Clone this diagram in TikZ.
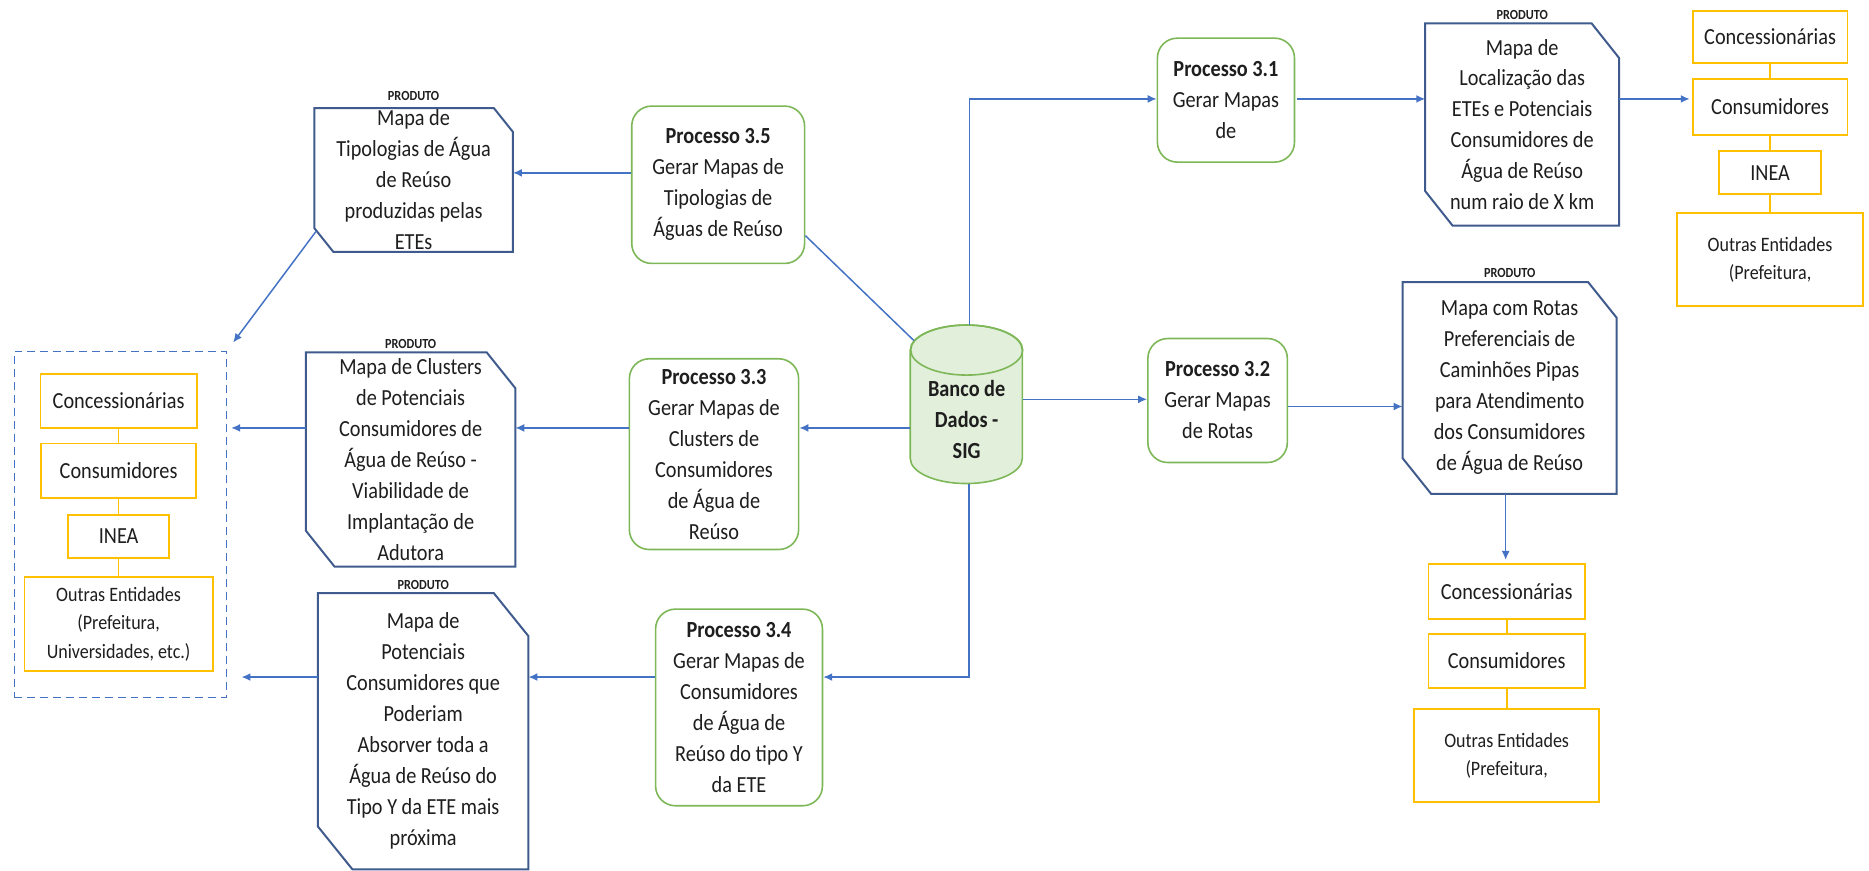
\documentclass[tikz,border=0pt]{standalone}
\usepackage{fontspec}
\setmainfont{Carlito}[FakeStretch=0.88]
\usetikzlibrary{arrows.meta}
\definecolor{procgreen}{HTML}{7DB757}
\definecolor{entyellow}{HTML}{FFC000}
\definecolor{arrowblue}{HTML}{4472C4}
\definecolor{prodblue}{HTML}{3F5A8C}
\definecolor{dbfill}{HTML}{E2EFDA}
\definecolor{txt}{HTML}{1E1E1E}

\tikzset{
  base/.style={font=\fontsize{11.6}{15.6}\selectfont, text=txt},
  sz/.style 2 args={minimum width=#1*0.6pt, minimum height=#2*0.6pt, inner sep=0pt},
  proc/.style={draw=procgreen, line width=0.8pt, rounded corners=10pt, align=center, fill=white, base},
  ent/.style={draw=entyellow, line width=0.9pt, align=center, fill=white, base},
  entsmall/.style={ent, font=\fontsize{10.3}{14.4}\selectfont},
  prodholder/.style={inner sep=0pt},
  prodtext/.style={align=center, base, inner sep=0pt},
  prodline/.style={draw=prodblue, line width=1pt, line join=miter},
  produto/.style={font=\bfseries\fontsize{7}{8}\selectfont, text=txt, inner sep=0pt},
  arr/.style={draw=arrowblue, line width=0.75pt, -{Latex[length=4.5pt,width=4pt]}},
  link/.style={draw=arrowblue, line width=0.75pt},
  tie/.style={draw=entyellow, line width=0.9pt},
}

% product outline: rectangle with the north-east and south-west corners cut
\newcommand\productshape[3]{%
  \draw[prodline] (#1.north west) -- ([xshift=-#2*0.6pt]#1.north east)
    -- ([yshift=-#3*0.6pt]#1.north east) -- (#1.south east)
    -- ([xshift=#2*0.6pt]#1.south west) -- ([yshift=#3*0.6pt]#1.south west) -- cycle;}

\begin{document}
\begin{tikzpicture}[x=0.6pt,y=-0.6pt]
\useasboundingbox (0,0) rectangle (1568,730);

% ---------- rows used by horizontal connectors ----------
\coordinate (r31) at (0,83);
\coordinate (r32) at (0,335);
\coordinate (r32b) at (0,341);
\coordinate (r33) at (0,359);
\coordinate (r34) at (0,568);
\coordinate (r35) at (0,145);

% ---------- database ----------
\node[sz={94}{133}] (db) at (811,339.5) {};
\path (db.north west) ++(0,21) coordinate (dbtl);
\path (db.north) ++(0,21) coordinate (dbtc);
\filldraw[fill=dbfill, draw=procgreen, line width=0.8pt]
  (dbtl) -- ++(0,91) arc[start angle=180, end angle=360, x radius=28.2pt, y radius=12.6pt]
  -- ++(0,-91) arc[start angle=0, end angle=180, x radius=28.2pt, y radius=12.6pt] -- cycle;
\draw[procgreen, line width=0.8pt] (dbtc) ellipse [x radius=28.2pt, y radius=12.6pt];
\node[align=center, text=txt, inner sep=0pt, font=\bfseries\fontsize{11.6}{15.6}\selectfont] (dbt) at (811,352) {Banco de\\Dados -\\SIG};

% ---------- process boxes ----------
\node[proc, sz={115}{104}] (p31) at (1028.5,84) {\textbf{Processo 3.1}\\Gerar Mapas\\de};
\node[proc, sz={117}{104}] (p32) at (1021.5,336) {\textbf{Processo 3.2}\\Gerar Mapas\\de Rotas};
\node[proc, sz={142}{160}] (p33) at (599,381) {\textbf{Processo 3.3}\\Gerar Mapas de\\Clusters de\\Consumidores\\de Água de\\Reúso};
\node[proc, sz={140}{165}] (p34) at (620,593.5) {\textbf{Processo 3.4}\\Gerar Mapas de\\Consumidores\\de Água de\\Reúso do tipo Y\\da ETE};
\node[proc, sz={145}{132}] (p35) at (602.5,155) {\textbf{Processo 3.5}\\Gerar Mapas de\\Tipologias de\\Águas de Reúso};

% ---------- products ----------
\node[prodholder, sz={162}{169}] (pr31) at (1277,104.5) {};
\productshape{pr31}{23}{29}
\node[prodtext] (pr31t) at (pr31) {Mapa de\\Localização das\\ETEs e Potenciais\\Consumidores de\\Água de Reúso\\num raio de X km};
\node[produto, anchor=base] (pr31l) at ([yshift=2pt]pr31.north) {PRODUTO};

\node[prodholder, sz={179}{177}] (pr32) at (1266.5,325.5) {};
\productshape{pr32}{24}{30}
\node[prodtext] (pr32t) at (pr32) {Mapa com Rotas\\Preferenciais de\\Caminhões Pipas\\para Atendimento\\dos Consumidores\\de Água de Reúso};
\node[produto, anchor=base] (pr32l) at ([yshift=2.5pt]pr32.north) {PRODUTO};

\node[prodholder, sz={175}{179}] (pr33) at (344.5,385.5) {};
\productshape{pr33}{24}{30}
\node[prodtext] (pr33t) at (pr33) {Mapa de Clusters\\de Potenciais\\Consumidores de\\Água de Reúso -\\Viabilidade de\\Implantação de\\Adutora};
\node[produto, anchor=base] (pr33l) at ([yshift=2pt]pr33.north) {PRODUTO};

\node[prodholder, sz={176}{231}] (pr34) at (355,613.5) {};
\productshape{pr34}{29}{36}
\node[prodtext] (pr34t) at (pr34) {Mapa de\\Potenciais\\Consumidores que\\Poderiam\\Absorver toda a\\Água de Reúso do\\Tipo Y da ETE mais\\próxima};
\node[produto, anchor=base] (pr34l) at ([yshift=2pt]pr34.north) {PRODUTO};

\node[prodholder, sz={166}{120}] (pr35) at (347,151) {};
\productshape{pr35}{16}{20}
\node[prodtext] (pr35t) at (pr35) {Mapa de\\Tipologias de Água\\de Reúso\\produzidas pelas\\ETEs};
\node[produto, anchor=base] (pr35l) at ([yshift=4pt]pr35.north) {PRODUTO};

% ---------- stakeholder group, left ----------
\node[draw=arrowblue, dash pattern=on 4pt off 2.5pt, line width=0.75pt, sz={178}{290}] (L0) at (101,440) {};
\node[ent, sz={131}{45}] (lConc) at (99.5,336.5) {Concessionárias};
\node[ent, sz={130}{46}] (lCons) at (99.5,395) {Consumidores};
\node[ent, sz={85}{36}] (lInea) at (99.5,450) {INEA};
\node[entsmall, sz={158}{79}] (lOut) at (99.5,523.5) {Outras Entidades\\(Prefeitura,\\Universidades, etc.)};
\draw[tie] (lConc.south) -- (lCons.north);
\draw[tie] (lCons.south) -- (lInea.north);
\draw[tie] (lInea.south) -- (lOut.north);

% ---------- stakeholder group, top right ----------
\node[ent, sz={130}{44}] (rConc) at (1485,31) {Concessionárias};
\node[ent, sz={130}{47}] (rCons) at (1485,89.5) {Consumidores};
\node[ent, sz={86}{36}] (rInea) at (1485,145) {INEA};
\node[entsmall, sz={156}{78}] (rOut) at (1485,218) {Outras Entidades\\(Prefeitura,};
\draw[tie] (rConc.south) -- (rCons.north);
\draw[tie] (rCons.south) -- (rInea.north);
\draw[tie] (rInea.south) -- (rOut.north);

% ---------- stakeholder group, bottom right ----------
\node[ent, sz={131}{46}] (bConc) at (1264,496) {Concessionárias};
\node[ent, sz={131}{45}] (bCons) at (1264,554.5) {Consumidores};
\node[entsmall, sz={155}{78}] (bOut) at (1264,634) {Outras Entidades\\(Prefeitura,};
\draw[tie] (bConc.south) -- (bCons.north);
\draw[tie] (bCons.south) -- (bOut.north);

% ---------- connectors ----------
% database to the processes
\draw[arr] ([xshift=1.5pt]db.north) -- ([xshift=1.5pt]db.north |- r31) -- (p31.west |- r31);
\draw[arr] (db.east |- r32) -- (p32.west |- r32);
\draw[arr] (db.west |- r33) -- (p33.east |- r33);
\draw[arr] ([xshift=1.2pt]db.south) -- ([xshift=1.2pt]db.south |- r34) -- (p34.east |- r34);
\draw[link] ([yshift=14.4pt]p35.south east) -- ([xshift=1.8pt,yshift=-7.8pt]db.north west);

% processes to their products
\draw[arr] ([xshift=1pt]p31.east |- r31) -- (pr31.west |- r31);
\draw[arr] (p32.east |- r32b) -- (pr32.west |- r32b);
\draw[arr] (p33.west |- r33) -- (pr33.east |- r33);
\draw[arr] (p34.west |- r34) -- (pr34.east |- r34);
\draw[arr] (p35.west |- r35) -- (pr35.east |- r35);

% products to the stakeholders
\draw[arr] (pr31.east |- r31) -- ([xshift=-1pt]rCons.west |- r31);
\draw[arr, shorten >=1.5pt] ([xshift=-2pt]pr32.south) -- ([xshift=-2pt]pr32.south |- bConc.north);
\draw[arr] (pr33.west |- r33) -- ([xshift=2pt]L0.east |- r33);
\draw[arr] (pr34.west |- r34) -- ([xshift=7.2pt]L0.east |- r34);
\draw[arr] ([xshift=1pt,yshift=10.5pt]pr35.south west) -- ([xshift=3pt,yshift=4.2pt]L0.north east);
\end{tikzpicture}
\end{document}
